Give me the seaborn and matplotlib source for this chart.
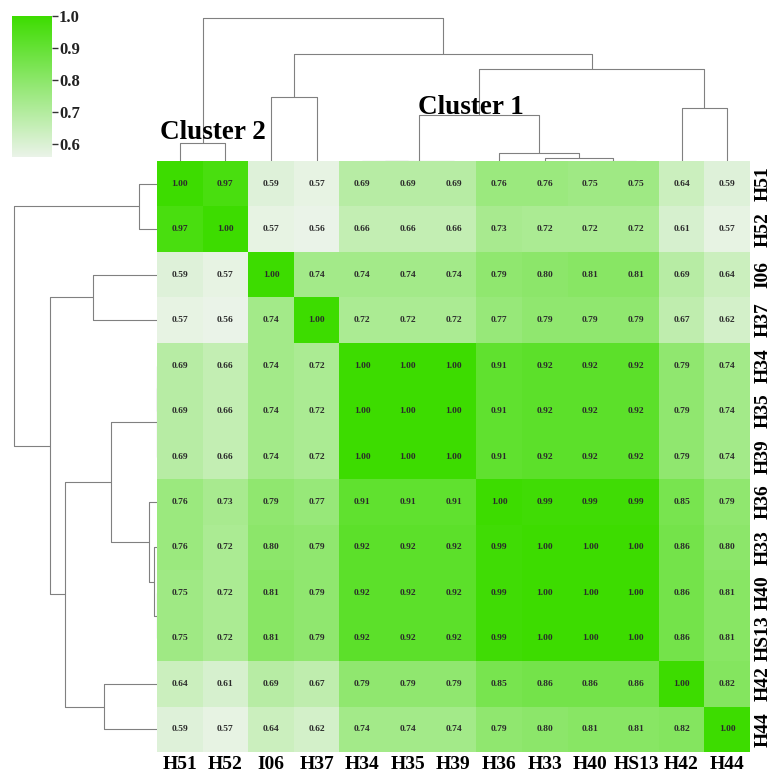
import numpy as np
import pandas as pd
import matplotlib
matplotlib.use("Agg")
import matplotlib.pyplot as plt
import seaborn as sns
from matplotlib.colors import LinearSegmentedColormap
from scipy.cluster.hierarchy import linkage

# ---- data (display order) ----
labels = ["H51", "H52", "I06", "H37", "H34", "H35", "H39",
          "H36", "H33", "H40", "HS13", "H42", "H44"]
row_H51 = [1.00, 0.97, 0.59, 0.57, 0.69, 0.69, 0.69, 0.76, 0.76, 0.75, 0.75, 0.64, 0.59]
row_H52 = [0.97, 1.00, 0.57, 0.56, 0.66, 0.66, 0.66, 0.73, 0.72, 0.72, 0.72, 0.61, 0.57]
row_I06 = [0.59, 0.57, 1.00, 0.74, 0.74, 0.74, 0.74, 0.79, 0.80, 0.81, 0.81, 0.69, 0.64]
row_H37 = [0.57, 0.56, 0.74, 1.00, 0.72, 0.72, 0.72, 0.77, 0.79, 0.79, 0.79, 0.67, 0.62]
row_H34 = [0.69, 0.66, 0.74, 0.72, 1.00, 1.00, 1.00, 0.91, 0.92, 0.92, 0.92, 0.79, 0.74]
row_H35 = [0.69, 0.66, 0.74, 0.72, 1.00, 1.00, 1.00, 0.91, 0.92, 0.92, 0.92, 0.79, 0.74]
row_H39 = [0.69, 0.66, 0.74, 0.72, 1.00, 1.00, 1.00, 0.91, 0.92, 0.92, 0.92, 0.79, 0.74]
row_H36 = [0.76, 0.73, 0.79, 0.77, 0.91, 0.91, 0.91, 1.00, 0.99, 0.99, 0.99, 0.85, 0.79]
row_H33 = [0.76, 0.72, 0.80, 0.79, 0.92, 0.92, 0.92, 0.99, 1.00, 1.00, 1.00, 0.86, 0.80]
row_H40 = [0.75, 0.72, 0.81, 0.79, 0.92, 0.92, 0.92, 0.99, 1.00, 1.00, 1.00, 0.86, 0.81]
row_HS13 = [0.75, 0.72, 0.81, 0.79, 0.92, 0.92, 0.92, 0.99, 1.00, 1.00, 1.00, 0.86, 0.81]
row_H42 = [0.64, 0.61, 0.69, 0.67, 0.79, 0.79, 0.79, 0.85, 0.86, 0.86, 0.86, 1.00, 0.82]
row_H44 = [0.59, 0.57, 0.64, 0.62, 0.74, 0.74, 0.74, 0.79, 0.80, 0.81, 0.81, 0.82, 1.00]
cbar_ticks = [0.6, 0.7, 0.8, 0.9, 1.0]
cluster_texts = ["Cluster 2", "Cluster 1"]

rows = [row_H51, row_H52, row_I06, row_H37, row_H34, row_H35, row_H39,
        row_H36, row_H33, row_H40, row_HS13, row_H42, row_H44]
df = pd.DataFrame(rows, index=labels, columns=labels)

sns.set_style("white")
plt.rcParams["font.family"] = ["Liberation Serif", "DejaVu Serif"]
plt.rcParams["font.weight"] = "bold"
plt.rcParams["text.color"] = "black"
plt.rcParams["xtick.color"] = "black"
plt.rcParams["ytick.color"] = "black"

# hierarchical clustering, children ordered to keep display order
Z = linkage(df.values, method="average", metric="euclidean")
n = len(labels)
minleaf = {i: i for i in range(n)}
for k in range(Z.shape[0]):
    a, b = int(Z[k, 0]), int(Z[k, 1])
    if minleaf[a] > minleaf[b]:
        Z[k, 0], Z[k, 1] = b, a
    minleaf[n + k] = min(minleaf[a], minleaf[b])

cmap = LinearSegmentedColormap.from_list("grn", ["#eaf3e8", "#3ddc00"])

W, H = 771, 778
cbar_rect = (12 / W, 1 - 157 / H, 40 / W, 141 / H)

g = sns.clustermap(
    df, row_linkage=Z, col_linkage=Z, cmap=cmap, vmin=0.56, vmax=1.0,
    annot=True, fmt=".2f",
    annot_kws={"size": 6.8, "weight": "bold", "color": "#2b2b2b"},
    figsize=(W / 100, H / 100), dendrogram_ratio=(0.19, 0.19),
    cbar_pos=cbar_rect, xticklabels=True, yticklabels=True,
    tree_kws={"colors": "#808080", "linewidths": 0.8},
)

# layout
hm_l, hm_r = 157 / W, 750 / W
hm_b, hm_t = 1 - 752 / H, 1 - 161 / H
g.ax_heatmap.set_position([hm_l, hm_b, hm_r - hm_l, hm_t - hm_b])
g.ax_col_dendrogram.set_position([hm_l, hm_t, hm_r - hm_l, 150 / H])
g.ax_row_dendrogram.set_position([7 / W, hm_b, hm_l - 7 / W, hm_t - hm_b])
g.ax_cbar.set_position(cbar_rect)

ax = g.ax_heatmap
ax.set_xlabel("")
ax.set_ylabel("")
ax.set_xticklabels(labels, rotation=0, fontsize=14, fontweight="bold", color="black")
ax.set_yticklabels(labels, rotation=90, va="center", fontsize=14, fontweight="bold", color="black")
ax.tick_params(axis="both", length=0, pad=3)

cb = g.ax_cbar
cb.set_yticks(cbar_ticks)
cb.set_yticklabels([f"{t:.1f}" for t in cbar_ticks], fontsize=12, fontweight="bold", color="#222222")
cb.tick_params(axis="y", length=4, width=1, color="#333333", pad=1)

g.fig.text(160 / W, 1 - 139 / H, cluster_texts[0], fontsize=19.5, fontweight="bold",
           color="black", ha="left", va="baseline")
g.fig.text(418 / W, 1 - 114 / H, cluster_texts[1], fontsize=19.5, fontweight="bold",
           color="black", ha="left", va="baseline")

g.fig.savefig("out.png", dpi=100)
